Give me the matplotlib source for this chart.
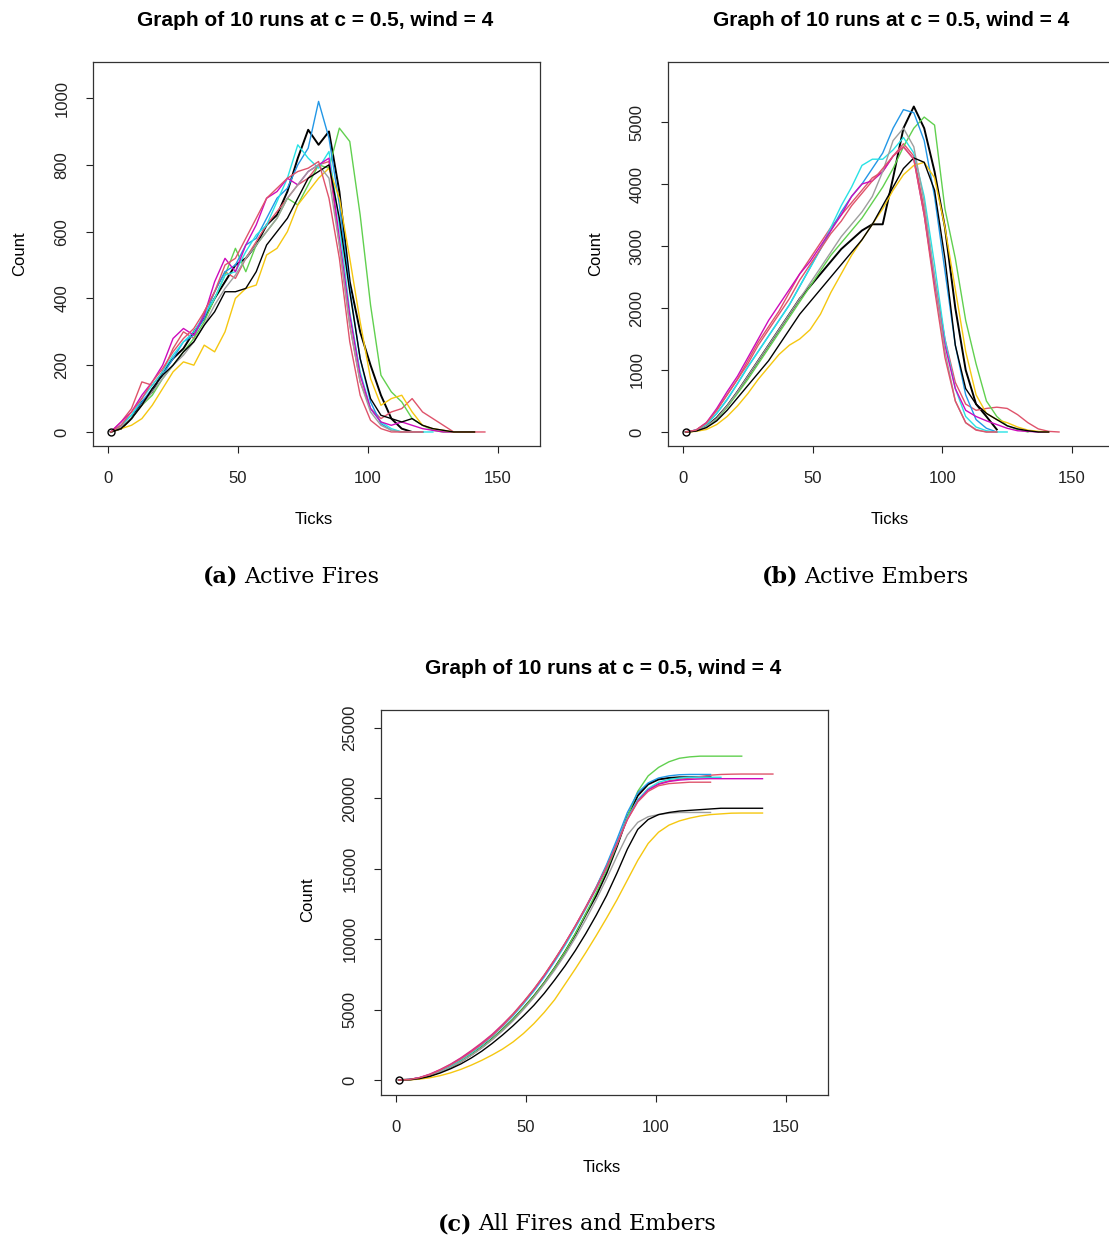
import matplotlib
matplotlib.use("Agg")
import matplotlib.pyplot as plt
import numpy as np

# tick grid shared by every run (a value every 4 ticks)
ticks = np.arange(1, 146, 4)

# R default palette, recycled over 10 runs
run_colors = ["#000000", "#DF536B", "#61D04F", "#2297E6", "#28E2E5",
              "#CD0BBC", "#F5C710", "#9E9E9E", "#000000", "#DF536B"]

# ---- (a) active fires ----
fires_r1 = [0, 10, 40, 90, 120, 180, 220, 250, 300, 340, 400, 450, 500, 520, 560, 620, 650, 720, 820, 905, 860, 900, 720, 450, 300, 200, 110, 40, 10, 0, 0]
fires_r2 = [0, 30, 70, 150, 140, 180, 250, 300, 280, 360, 420, 480, 460, 520, 570, 620, 660, 700, 740, 760, 800, 810, 560, 320, 150, 70, 40, 60, 70, 100, 60, 40, 20, 0, 0, 0, 0]
fires_r3 = [0, 15, 40, 80, 110, 160, 200, 240, 280, 330, 400, 470, 550, 480, 560, 600, 640, 700, 680, 740, 800, 790, 910, 870, 650, 380, 170, 120, 90, 40, 20, 5, 0, 0]
fires_r4 = [0, 20, 50, 90, 130, 170, 220, 270, 290, 340, 420, 480, 500, 560, 580, 640, 700, 730, 800, 850, 990, 880, 680, 430, 220, 90, 25, 5, 0, 0, 0]
fires_r5 = [0, 20, 50, 100, 140, 180, 230, 270, 300, 350, 400, 470, 480, 540, 590, 620, 690, 760, 860, 820, 790, 840, 620, 360, 180, 70, 30, 10, 0, 0, 0, 0]
fires_r6 = [0, 30, 60, 110, 150, 200, 280, 310, 290, 350, 450, 520, 480, 560, 620, 700, 720, 760, 740, 780, 800, 820, 580, 350, 170, 70, 30, 20, 30, 20, 10, 5, 0, 0, 0, 0]
fires_r7 = [0, 10, 20, 40, 80, 130, 180, 210, 200, 260, 240, 300, 400, 430, 440, 530, 550, 600, 680, 720, 760, 790, 700, 520, 330, 160, 80, 100, 110, 60, 20, 10, 5, 0, 0, 0]
fires_r8 = [0, 15, 40, 80, 120, 160, 200, 230, 270, 320, 380, 430, 470, 520, 560, 600, 640, 700, 740, 780, 800, 760, 560, 320, 150, 60, 20, 5, 0, 0, 0]
fires_r9 = [0, 10, 40, 80, 130, 170, 200, 240, 270, 320, 360, 420, 420, 430, 480, 560, 600, 640, 700, 760, 780, 800, 640, 420, 220, 100, 50, 40, 30, 40, 20, 10, 5, 0, 0, 0]
fires_r10 = [0, 20, 60, 100, 150, 190, 240, 280, 310, 360, 420, 500, 520, 580, 640, 700, 730, 760, 780, 790, 810, 700, 520, 270, 110, 35, 10, 0, 0, 0, 0]

# ---- (b) active embers ----
embers_r1 = [0, 20, 90, 230, 420, 650, 900, 1150, 1400, 1650, 1900, 2150, 2350, 2550, 2750, 2950, 3100, 3250, 3350, 3350, 4100, 4900, 5250, 4900, 4200, 3300, 2000, 1000, 450, 250, 40]
embers_r2 = [0, 30, 150, 350, 600, 850, 1150, 1450, 1700, 1950, 2250, 2550, 2800, 3050, 3300, 3500, 3700, 3900, 4100, 4200, 4450, 4650, 4450, 3600, 2500, 1500, 800, 450, 350, 380, 400, 380, 280, 150, 50, 10, 0]
embers_r3 = [0, 15, 80, 200, 400, 620, 850, 1100, 1350, 1600, 1850, 2100, 2350, 2600, 2850, 3050, 3250, 3450, 3700, 3950, 4250, 4600, 4900, 5080, 4950, 3600, 2800, 1800, 1100, 500, 250, 100, 40, 0]
embers_r4 = [0, 30, 120, 300, 520, 780, 1050, 1300, 1550, 1800, 2050, 2350, 2650, 2950, 3250, 3550, 3800, 4000, 4250, 4500, 4900, 5200, 5150, 4700, 3800, 2600, 1400, 600, 200, 60, 0]
embers_r5 = [0, 30, 120, 300, 530, 780, 1050, 1300, 1550, 1800, 2050, 2350, 2650, 2950, 3300, 3650, 3950, 4300, 4400, 4400, 4550, 4750, 4500, 3800, 2700, 1500, 700, 250, 80, 20, 0, 0]
embers_r6 = [0, 30, 150, 380, 650, 900, 1200, 1500, 1800, 2050, 2300, 2550, 2750, 3000, 3250, 3500, 3800, 4000, 4050, 4200, 4450, 4600, 4400, 3500, 2400, 1400, 700, 350, 250, 180, 120, 60, 20, 10, 0, 0]
embers_r7 = [0, 10, 40, 120, 250, 420, 620, 850, 1050, 1250, 1400, 1500, 1650, 1900, 2250, 2550, 2850, 3100, 3350, 3600, 3900, 4150, 4300, 4350, 4100, 3300, 2300, 1300, 600, 300, 200, 150, 80, 30, 10, 0]
embers_r8 = [0, 20, 90, 220, 420, 650, 900, 1150, 1400, 1650, 1900, 2150, 2400, 2650, 2900, 3150, 3350, 3550, 3800, 4200, 4700, 4900, 4600, 3700, 2500, 1300, 500, 150, 40, 0, 0]
embers_r9 = [0, 15, 70, 180, 350, 550, 750, 950, 1150, 1400, 1650, 1900, 2100, 2300, 2500, 2700, 2900, 3100, 3350, 3650, 3950, 4250, 4420, 4350, 3900, 2800, 1400, 700, 450, 300, 200, 100, 50, 20, 0, 0]
embers_r10 = [0, 30, 140, 350, 600, 850, 1100, 1400, 1650, 1900, 2150, 2450, 2700, 2950, 3200, 3400, 3650, 3850, 4050, 4250, 4450, 4600, 4400, 3500, 2300, 1200, 500, 150, 30, 0, 0]

# ---- (c) all fires and embers (cumulative) ----
total_r1 = [0, 25, 120, 300, 580, 920, 1330, 1800, 2330, 2920, 3580, 4300, 5100, 5950, 6900, 7950, 9100, 10350, 11750, 13100, 14700, 16600, 18700, 20200, 21000, 21350, 21450, 21500, 21500, 21500, 21500]
total_r2 = [0, 35, 170, 420, 750, 1130, 1580, 2100, 2650, 3250, 3950, 4700, 5550, 6450, 7450, 8550, 9700, 10950, 12300, 13700, 15200, 16900, 18600, 19900, 20650, 21050, 21250, 21350, 21450, 21550, 21650, 21700, 21720, 21730, 21730, 21730, 21730]
total_r3 = [0, 25, 120, 300, 580, 920, 1330, 1800, 2330, 2920, 3580, 4300, 5100, 5950, 6900, 7950, 9100, 10400, 11800, 13300, 14900, 16700, 18700, 20500, 21600, 22200, 22600, 22850, 22950, 23000, 23000, 23000, 23000, 23000]
total_r4 = [0, 30, 150, 360, 660, 1020, 1460, 1960, 2520, 3150, 3850, 4620, 5480, 6400, 7400, 8500, 9650, 10900, 12250, 13700, 15300, 17100, 19000, 20400, 21100, 21450, 21600, 21680, 21700, 21700, 21700]
total_r5 = [0, 30, 150, 360, 650, 1000, 1440, 1930, 2480, 3100, 3800, 4550, 5400, 6300, 7300, 8400, 9550, 10800, 12150, 13600, 15150, 16850, 18600, 19900, 20700, 21150, 21350, 21450, 21500, 21500, 21500, 21500]
total_r6 = [0, 35, 170, 400, 720, 1100, 1550, 2050, 2600, 3200, 3900, 4650, 5500, 6400, 7400, 8500, 9700, 10950, 12250, 13600, 15100, 16800, 18500, 19800, 20600, 21000, 21200, 21300, 21350, 21380, 21400, 21400, 21400, 21400, 21400, 21400]
total_r7 = [0, 10, 60, 160, 310, 510, 760, 1060, 1400, 1780, 2200, 2700, 3300, 4000, 4800, 5700, 6800, 7900, 9050, 10250, 11500, 12800, 14200, 15600, 16800, 17600, 18100, 18400, 18600, 18750, 18850, 18900, 18950, 18960, 18960, 18960]
total_r8 = [0, 25, 120, 300, 570, 900, 1300, 1760, 2280, 2860, 3500, 4200, 5000, 5850, 6800, 7800, 8900, 10100, 11400, 12800, 14300, 15900, 17400, 18300, 18700, 18850, 18950, 19000, 19000, 19000, 19000]
total_r9 = [0, 20, 100, 260, 500, 800, 1150, 1570, 2050, 2600, 3200, 3850, 4550, 5300, 6150, 7100, 8100, 9200, 10400, 11700, 13100, 14700, 16400, 17800, 18500, 18850, 19000, 19100, 19150, 19200, 19250, 19300, 19300, 19300, 19300, 19300]
total_r10 = [0, 30, 160, 380, 700, 1070, 1500, 2000, 2550, 3150, 3850, 4650, 5500, 6450, 7450, 8550, 9700, 10950, 12250, 13650, 15150, 16750, 18500, 19750, 20500, 20900, 21050, 21100, 21150, 21150, 21150]

fires = [fires_r1, fires_r2, fires_r3, fires_r4, fires_r5, fires_r6, fires_r7, fires_r8, fires_r9, fires_r10]
embers = [embers_r1, embers_r2, embers_r3, embers_r4, embers_r5, embers_r6, embers_r7, embers_r8, embers_r9, embers_r10]
totals = [total_r1, total_r2, total_r3, total_r4, total_r5, total_r6, total_r7, total_r8, total_r9, total_r10]

title = "Graph of 10 runs at c = 0.5, wind = 4"
sans = "Liberation Sans"
serif = "DejaVu Serif"

W, H = 1109, 1239
fig = plt.figure(figsize=(W / 100, H / 100), dpi=100)
fig.patch.set_facecolor("white")


def px_axes(left, top, width, height):
    return fig.add_axes([left / W, 1 - (top + height) / H, width / W, height / H])


def ftext(x, y, s, **kw):
    fig.text(x / W, 1 - y / H, s, **kw)


def draw_panel(ax, runs, ylim, yticks):
    for i, vals in enumerate(runs):
        lw = 1.4 if i == 0 else 1.0
        ax.plot(ticks[:len(vals)], vals, color=run_colors[i], lw=lw)
    ax.plot(ticks[0], runs[0][0], "o", mfc="none", mec="black", ms=5, mew=1.0)
    ax.set_xlim(-5.8, 166.2)
    ax.set_ylim(*ylim)
    ax.set_xticks([0, 50, 100, 150])
    ax.set_yticks(yticks)
    ax.tick_params(direction="out", length=5, width=0.8, pad=13, labelsize=12, colors="#222222")
    ax.tick_params(axis="y", labelrotation=90, pad=12)
    for lbl in ax.get_yticklabels():
        lbl.set_va("center")
        lbl.set_family(sans)
    for lbl in ax.get_xticklabels():
        lbl.set_family(sans)
    for sp in ax.spines.values():
        sp.set_color("#333333")
        sp.set_linewidth(0.9)


ax_a = px_axes(93, 62, 447, 384)
draw_panel(ax_a, fires, (-42, 1108), [0, 200, 400, 600, 800, 1000])

ax_b = px_axes(668, 62, 446, 384)
draw_panel(ax_b, embers, (-226, 5968), [0, 1000, 2000, 3000, 4000, 5000])

ax_c = px_axes(381, 710, 447, 385)
draw_panel(ax_c, totals, (-1065, 26278), [0, 5000, 10000, 15000, 20000, 25000])

# titles and axis labels (R style)
for cx, cy in [(315, 20), (891, 20), (603, 668)]:
    ftext(cx, cy, title, ha="center", va="center", fontsize=15, fontweight="bold", family=sans)
for cx, cy in [(20, 254), (596, 254), (308, 900)]:
    ftext(cx, cy, "Count", ha="center", va="center", rotation=90, fontsize=12, family=sans)
for cx, cy in [(314, 520), (890, 520), (602, 1168)]:
    ftext(cx, cy, "Ticks", ha="center", va="center", fontsize=12, family=sans)

# sub-figure captions
captions = [("(a)", "Active Fires", 238, 577),
            ("(b)", "Active Embers", 798, 577),
            ("(c)", "All Fires and Embers", 472, 1224)]
for tag, name, x, y in captions:
    ftext(x, y, tag, ha="right", va="center", fontsize=16, fontweight="bold", family=serif)
    ftext(x + 6, y, name, ha="left", va="center", fontsize=16, family=serif)

fig.savefig("out.png", dpi=100, facecolor="white")
